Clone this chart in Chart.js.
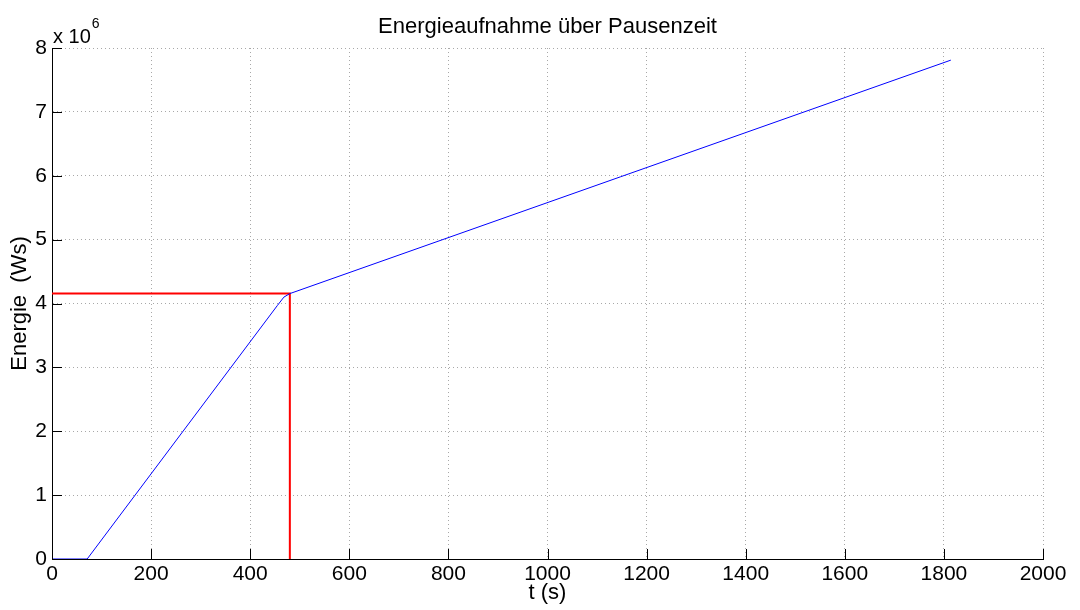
<!DOCTYPE html>
<html>
<head>
<meta charset="utf-8">
<script src="https://cdn.jsdelivr.net/npm/chart.js@4"></script>
<style>
  html, body { margin: 0; padding: 0; background: #fff; }
</style>
</head>
<body>
<canvas id="chart" width="1080" height="610"></canvas>
<script>
// Energy taken up versus pause time
const timeSec  = [0, 71, 455, 468, 480, 1814];
const energyWs = [0, 0, 3.97e6, 4.10e6, 4.155e6, 7.81e6];

// Reference point marked by the red guide lines
const refTimeSec  = 480;
const refEnergyWs = 4.155e6;

// Axis ticks
const xTicks = [0, 200, 400, 600, 800, 1000, 1200, 1400, 1600, 1800, 2000];
const yTicks = [0, 1, 2, 3, 4, 5, 6, 7, 8];   // in units of 10^6 Ws
const yExponent = 1e6;

const FONT = '"Liberation Sans", Arial, sans-serif';

const curve = timeSec.map((t, i) => ({ x: t, y: energyWs[i] }));
const guide = [
  { x: 0, y: refEnergyWs },
  { x: refTimeSec, y: refEnergyWs },
  { x: refTimeSec, y: 0 }
];

// Tick marks pointing into the plot, plus the "x 10^6" exponent label
const axisDecor = {
  id: 'axisDecor',
  afterDraw(chart) {
    const { ctx, chartArea: a, scales: { x, y } } = chart;
    const len = 10;
    ctx.save();
    ctx.strokeStyle = '#000';
    ctx.lineWidth = 1;
    ctx.beginPath();
    xTicks.forEach(v => {
      const px = Math.round(x.getPixelForValue(v)) + 0.5;
      ctx.moveTo(px, a.bottom);
      ctx.lineTo(px, a.bottom - len);
    });
    yTicks.forEach(v => {
      const py = Math.round(y.getPixelForValue(v * yExponent)) + 0.5;
      ctx.moveTo(a.left, py);
      ctx.lineTo(a.left + len, py);
    });
    ctx.stroke();

    ctx.fillStyle = '#000';
    ctx.textBaseline = 'alphabetic';
    ctx.textAlign = 'left';
    ctx.font = '20px ' + FONT;
    ctx.fillText('x 10', a.left + 1, a.top - 5);
    const w = ctx.measureText('x 10').width;
    ctx.font = '14px ' + FONT;
    ctx.fillText('6', a.left + 2 + w, a.top - 20);
    ctx.restore();
  }
};

new Chart(document.getElementById('chart'), {
  type: 'scatter',
  data: {
    datasets: [
      {
        data: curve,
        showLine: true,
        borderColor: '#0000ff',
        borderWidth: 1,
        pointRadius: 0,
        tension: 0
      },
      {
        data: guide,
        showLine: true,
        borderColor: '#ff0000',
        borderWidth: 2,
        pointRadius: 0,
        tension: 0
      }
    ]
  },
  options: {
    responsive: false,
    animation: false,
    layout: { padding: { left: 0, right: 37, top: 0, bottom: 0 } },
    plugins: {
      legend: { display: false },
      tooltip: { enabled: false },
      title: {
        display: true,
        fullSize: false,
        text: 'Energieaufnahme über Pausenzeit',
        color: '#000',
        font: { family: FONT, size: 22, weight: 'normal' },
        padding: { top: 14, bottom: 7.6 }
      }
    },
    scales: {
      x: {
        type: 'linear',
        min: 0,
        max: 2000,
        afterBuildTicks(scale) { scale.ticks = xTicks.map(v => ({ value: v })); },
        afterFit(scale) { scale.height = 51; },
        ticks: {
          color: '#000',
          padding: 3,
          maxRotation: 0,
          font: { family: FONT, size: 21 },
          callback: v => String(v)
        },
        grid: { color: '#a8a8a8', lineWidth: 1, drawTicks: false },
        border: { display: true, color: '#000', width: 1, dash: [1, 3] },
        title: {
          display: true,
          text: 't (s)',
          color: '#000',
          font: { family: FONT, size: 22 },
          padding: { top: 0, bottom: 4 }
        }
      },
      y: {
        type: 'linear',
        min: 0,
        max: 8 * yExponent,
        afterBuildTicks(scale) { scale.ticks = yTicks.map(v => ({ value: v * yExponent })); },
        afterFit(scale) { scale.width = 52; },
        ticks: {
          color: '#000',
          padding: 5,
          font: { family: FONT, size: 21 },
          callback: v => String(v / yExponent)
        },
        grid: { color: '#a8a8a8', lineWidth: 1, drawTicks: false },
        border: { display: true, color: '#000', width: 1, dash: [1, 3] },
        title: {
          display: true,
          text: 'Energie  (Ws)',
          color: '#000',
          font: { family: FONT, size: 22 },
          padding: { top: 7, bottom: 0 }
        }
      }
    }
  },
  plugins: [axisDecor]
});
</script>
</body>
</html>
